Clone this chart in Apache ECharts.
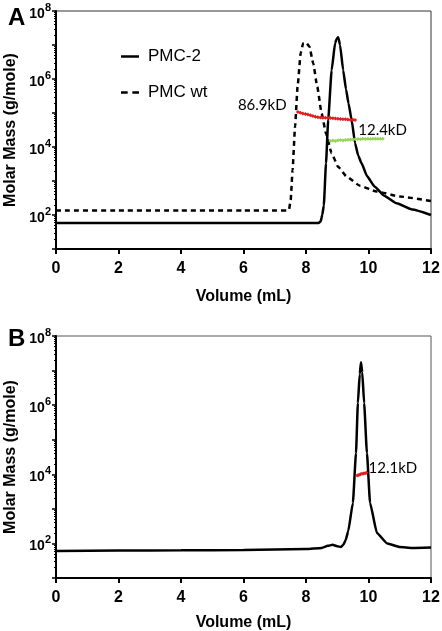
<!DOCTYPE html>
<html>
<head>
<meta charset="utf-8">
<script src="https://cdn.jsdelivr.net/npm/echarts@6/dist/echarts.min.js"></script>
<style>html,body{margin:0;padding:0;background:#fff}#c{width:442px;height:631px}</style>
</head>
<body>
<div id="c"></div>
<script>
// ---- Panel A data ----
const pmc2A_vol  = [0, 2, 4, 6, 8, 8.4, 8.47, 8.52, 8.57, 8.64, 8.71, 8.82, 8.93, 8.98, 9.03, 9.09, 9.19, 9.28, 9.36, 9.46, 9.57, 9.67, 9.78, 9.95, 10.2, 10.5, 10.9, 11.4, 12];
const pmc2A_mass = [58, 58, 58, 58, 58, 58, 65, 100, 190, 3300, 6.2e4, 1.8e6, 1.12e7, 1.5e7, 1.7e7, 1.0e7, 1.8e6, 5.0e5, 1.95e5, 6.2e4, 1.3e4, 5.6e3, 3300, 1400, 680, 370, 220, 145, 100];

const pmcwtA_vol  = [0, 2, 4, 6, 7, 7.4, 7.46, 7.51, 7.57, 7.65, 7.73, 7.83, 7.91, 8.0, 8.11, 8.23, 8.36, 8.5, 8.64, 8.82, 9.03, 9.3, 9.73, 10.26, 11.0, 12];
const pmcwtA_mass = [135, 135, 135, 135, 135, 135, 150, 275, 2100, 4.0e4, 5.9e5, 5.8e6, 1.12e7, 1.2e7, 8.9e6, 2.9e6, 5.9e5, 9.8e4, 2.5e4, 6.5e3, 2.6e3, 1350, 720, 490, 350, 257];

const redA_vol  = [7.74, 7.82, 7.90, 7.98, 8.06, 8.14, 8.22, 8.30, 8.38, 8.46, 8.54, 8.62, 8.70, 8.78, 8.86, 8.94, 9.02, 9.10, 9.18, 9.26, 9.34, 9.42, 9.50, 9.57];
const redA_mass = [1.07e5, 1.02e5, 9.7e4, 9.3e4, 9.0e4, 8.6e4, 8.2e4, 7.8e4, 7.5e4, 7.4e4, 7.3e4, 7.25e4, 7.2e4, 7.1e4, 7.0e4, 6.9e4, 6.8e4, 6.7e4, 6.6e4, 6.5e4, 6.4e4, 6.35e4, 6.3e4, 6.2e4];

const greenA_vol  = [8.78, 8.86, 8.94, 9.02, 9.10, 9.18, 9.26, 9.34, 9.42, 9.50, 9.58, 9.66, 9.74, 9.82, 9.90, 9.98, 10.06, 10.14, 10.22, 10.30, 10.38, 10.46];
const greenA_mass = [1.5e4, 1.55e4, 1.5e4, 1.58e4, 1.6e4, 1.56e4, 1.6e4, 1.63e4, 1.66e4, 1.65e4, 1.7e4, 1.72e4, 1.7e4, 1.74e4, 1.73e4, 1.75e4, 1.73e4, 1.76e4, 1.75e4, 1.74e4, 1.76e4, 1.75e4];

const labelsA_text = ['86.9kD', '12.4kD'];
const labelsA_vol  = [6.6, 10.45];
const labelsA_mass = [1.7e5, 3.2e4];

// ---- Panel B data ----
const pmc2B_vol  = [0, 2, 4, 6, 7, 8, 8.5, 8.7, 8.85, 9.0, 9.12, 9.2, 9.27, 9.35, 9.5, 9.6, 9.66, 9.72, 9.76, 9.8, 9.86, 9.95, 10.05, 10.27, 10.6, 11.0, 11.4, 12];
const pmc2B_mass = [60, 62, 63, 65, 67, 69, 74, 85, 91, 83, 79, 93, 126, 224, 1480, 4.1e4, 1.15e6, 7.9e6, 1.74e7, 8.9e6, 1.15e6, 4.1e4, 1480, 200, 100, 79, 74, 76];

const redB_vol  = [9.64, 9.69, 9.74, 9.79, 9.84, 9.89, 9.93];
const redB_mass = [9.3e3, 9.6e3, 1.0e4, 1.03e4, 1.05e4, 1.07e4, 1.1e4];

const labelsB_text = ['12.1kD'];
const labelsB_vol  = [10.78];
const labelsB_mass = [1.5e4];

// ---- tick labels ----
const xTicks = [0, 2, 4, 6, 8, 10, 12];
const yLabelExps = [2, 4, 6, 8];

const zip = (a, b) => a.map((v, i) => [v, b[i]]);
const FONT = "'Liberation Sans', Arial, sans-serif";

function xAxisCfg(gi, nameGap) {
  return {
    gridIndex: gi, type: 'value', min: 0, max: 12, interval: 2,
    name: 'Volume (mL)', nameLocation: 'middle', nameGap: nameGap,
    nameTextStyle: {fontFamily: FONT, fontWeight: 'bold', fontSize: 16, color: '#000'},
    axisLine: {onZero: false, lineStyle: {color: '#000', width: 2}},
    axisTick: {length: 5, lineStyle: {color: '#000', width: 2}},
    axisLabel: {fontFamily: FONT, fontWeight: 'bold', fontSize: 16, color: '#000', margin: 12,
      formatter: v => xTicks.includes(v) ? String(v) : ''},
    splitLine: {show: false}
  };
}
function yAxisCfg(gi) {
  return {
    gridIndex: gi, type: 'log', logBase: 10, min: 10, max: 1e8,
    name: 'Molar Mass (g/mole)', nameLocation: 'middle', nameGap: 36,
    nameTextStyle: {fontFamily: FONT, fontWeight: 'bold', fontSize: 16, color: '#000'},
    axisLine: {lineStyle: {color: '#000', width: 2}},
    axisTick: {length: 4, lineStyle: {color: '#000', width: 1.5}},
    minorTick: {show: true, splitNumber: 9, length: 2, lineStyle: {color: '#000', width: 1}},
    axisLabel: {
      margin: 5,
      formatter: v => {
        const e = Math.round(Math.log10(v));
        return yLabelExps.includes(e) ? '{b|10}{s|' + e + '}' : '';
      },
      rich: {
        b: {fontFamily: FONT, fontWeight: 'bold', fontSize: 14, color: '#000', padding: [6, 0, 0, 0]},
        s: {fontFamily: FONT, fontWeight: 'bold', fontSize: 11, color: '#000', padding: [0, 0, 6, 0]}
      }
    },
    splitLine: {show: false}
  };
}

const lineBase = {type: 'line', showSymbol: false, symbol: 'none', smooth: 0.15, smoothMonotone: 'x', z: 3};
const dotStyle = (color) => ({
  type: 'line', symbol: 'diamond', symbolSize: 4, showSymbol: true,
  itemStyle: {color: color}, lineStyle: {color: color, width: 1.5}, z: 5, silent: true
});
const labelSeries = (xi, yi, t, v, m) => ({
  type: 'scatter', xAxisIndex: xi, yAxisIndex: yi, symbolSize: 2, itemStyle: {color: 'rgba(0,0,0,0)'},
  data: zip(v, m).map((p, i) => ({value: p, name: t[i]})),
  label: {show: true, position: 'inside', formatter: p => p.name,
    fontFamily: "Lato, 'Open Sans', sans-serif", fontSize: 15, color: '#000', opacity: 1,
    textBorderWidth: 0},
  z: 6, silent: true
});

const option = {
  animation: false,
  backgroundColor: '#fff',
  title: [
    {text: 'A', left: 3, top: 1, textStyle: {fontFamily: FONT, fontWeight: 'bold', fontSize: 24, color: '#000'}},
    {text: 'B', left: 3, top: 322, textStyle: {fontFamily: FONT, fontWeight: 'bold', fontSize: 24, color: '#000'}}
  ],
  legend: {
    data: [
      {name: 'PMC-2', icon: 'path://M0,0H18V2.5H0Z'},
      {name: 'PMC wt', icon: 'path://M0,0H6.5V2.5H0Z M11,0H17.5V2.5H11Z'}
    ],
    orient: 'vertical', left: 116, top: 43,
    itemWidth: 18, itemHeight: 16, itemGap: 19,
    textStyle: {fontFamily: FONT, fontSize: 17, color: '#000', padding: [0, 0, 0, 4]}
  },
  grid: [
    {left: 56, top: 11, width: 375, height: 238, show: true, borderColor: '#333', borderWidth: 1, outerBoundsMode: 'none', containLabel: false},
    {left: 56, top: 336, width: 375, height: 242, show: true, borderColor: '#555', borderWidth: 1, outerBoundsMode: 'none', containLabel: false}
  ],
  xAxis: [xAxisCfg(0, 40), xAxisCfg(1, 37)],
  yAxis: [yAxisCfg(0), yAxisCfg(1)],
  series: [
    Object.assign({}, lineBase, {name: 'PMC-2', xAxisIndex: 0, yAxisIndex: 0, data: zip(pmc2A_vol, pmc2A_mass),
      lineStyle: {color: '#000', width: 2.5}, itemStyle: {color: '#000'}}),
    Object.assign({}, lineBase, {name: 'PMC wt', xAxisIndex: 0, yAxisIndex: 0, data: zip(pmcwtA_vol, pmcwtA_mass),
      lineStyle: {color: '#000', width: 2.5, type: [5, 4]}, itemStyle: {color: '#000'}}),
    Object.assign(dotStyle('#e02020'), {name: 'redA', xAxisIndex: 0, yAxisIndex: 0, data: zip(redA_vol, redA_mass)}),
    Object.assign(dotStyle('#9ad35a'), {name: 'greenA', xAxisIndex: 0, yAxisIndex: 0, data: zip(greenA_vol, greenA_mass)}),
    labelSeries(0, 0, labelsA_text, labelsA_vol, labelsA_mass),
    Object.assign({}, lineBase, {name: 'PMC-2 B', xAxisIndex: 1, yAxisIndex: 1, data: zip(pmc2B_vol, pmc2B_mass),
      lineStyle: {color: '#000', width: 2.5}, itemStyle: {color: '#000'}}),
    Object.assign(dotStyle('#e02020'), {name: 'redB', xAxisIndex: 1, yAxisIndex: 1, data: zip(redB_vol, redB_mass)}),
    labelSeries(1, 1, labelsB_text, labelsB_vol, labelsB_mass)
  ]
};
const chart = echarts.init(document.getElementById('c'), null, {renderer: 'canvas'});
chart.setOption(option);
</script>
</body>
</html>
